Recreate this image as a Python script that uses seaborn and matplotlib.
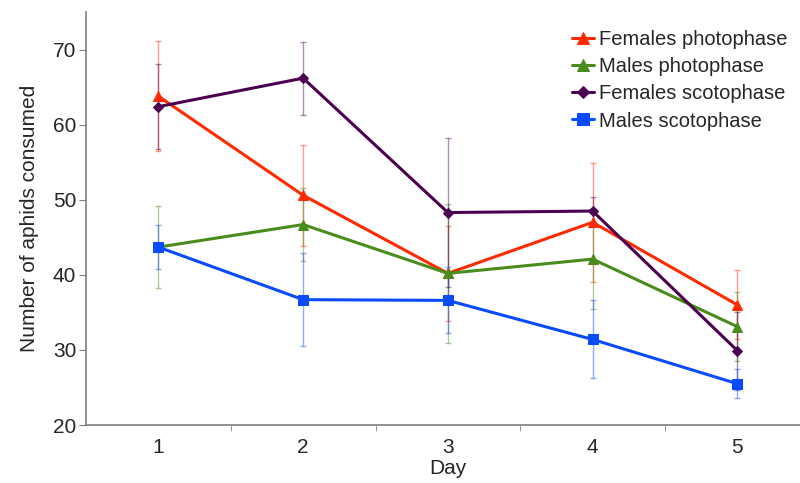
import numpy as np
import pandas as pd
import matplotlib
matplotlib.use("Agg")
import matplotlib.pyplot as plt
import seaborn as sns

days = [1, 2, 3, 4, 5]
series = ["Females photophase", "Males photophase", "Females scotophase", "Males scotophase"]

fem_photo = [63.8, 50.6, 40.2, 47.0, 36.0]
fem_photo_err = [7.3, 6.7, 6.3, 7.9, 4.6]
male_photo = [43.7, 46.7, 40.2, 42.1, 33.1]
male_photo_err = [5.5, 4.85, 9.3, 6.6, 4.6]
fem_scoto = [62.4, 66.2, 48.3, 48.5, 29.9]
fem_scoto_err = [5.7, 4.85, 9.9, 1.9, 5.2]
male_scoto = [43.7, 36.7, 36.6, 31.4, 25.5]
male_scoto_err = [2.9, 6.2, 4.4, 5.2, 1.9]

colors = ["#ff2a00", "#4a8c1c", "#4b0050", "#0a4bff"]
markers = ["^", "^", "D", "s"]
msizes = [7, 7, 5, 7]

vals = [fem_photo, male_photo, fem_scoto, male_scoto]
errs = [fem_photo_err, male_photo_err, fem_scoto_err, male_scoto_err]

df = pd.DataFrame({
    "Day": days * 4,
    "value": sum(vals, []),
    "err": sum(errs, []),
    "group": [s for s in series for _ in days],
})

sns.set_style("white")
plt.rcParams["font.family"] = ["Liberation Sans", "DejaVu Sans"]

fig = plt.figure(figsize=(8, 4.83), dpi=100)
ax = fig.add_axes([0.1075, 0.12, 0.9047, 0.855])

# error bars first, light
for i, s in enumerate(series):
    d = df[df.group == s]
    ax.errorbar(d.Day, d.value, yerr=d.err, fmt="none", ecolor=colors[i],
                alpha=0.45, elinewidth=1, capsize=2.5, capthick=1, zorder=2)

for i, s in enumerate(series):
    d = df[df.group == s]
    sns.lineplot(data=d, x="Day", y="value", ax=ax, color=colors[i],
                 marker=markers[i], markersize=msizes[i], markeredgecolor=colors[i],
                 linewidth=2.2, label=s, zorder=3 + i)

ax.set_xlim(0.5, 5.5)
ax.set_ylim(20, 75)
ax.set_xticks(days)
ax.set_xticks([1.5, 2.5, 3.5, 4.5], minor=True)
ax.set_yticks([20, 30, 40, 50, 60, 70])
ax.tick_params(axis="x", which="major", length=0, labelsize=15, pad=9)
ax.tick_params(axis="x", which="minor", length=4, color="#808080", bottom=True)
ax.tick_params(axis="y", length=5, color="#808080", labelsize=15, left=True, pad=2)

for sp in ["top", "right"]:
    ax.spines[sp].set_visible(False)
for sp in ["left", "bottom"]:
    ax.spines[sp].set_color("#808080")
    ax.spines[sp].set_linewidth(1.2)

ax.set_xlabel("Day", fontsize=15, labelpad=2)
ax.set_ylabel("Number of aphids consumed", fontsize=15, labelpad=10)

leg = ax.legend(loc="upper left", bbox_to_anchor=(0.655, 0.985), frameon=False,
                fontsize=14.5, handlelength=1.1, handletextpad=0.25, labelspacing=0.4,
                borderaxespad=0.2, markerscale=1.3)

fig.savefig("out.png", dpi=100)
